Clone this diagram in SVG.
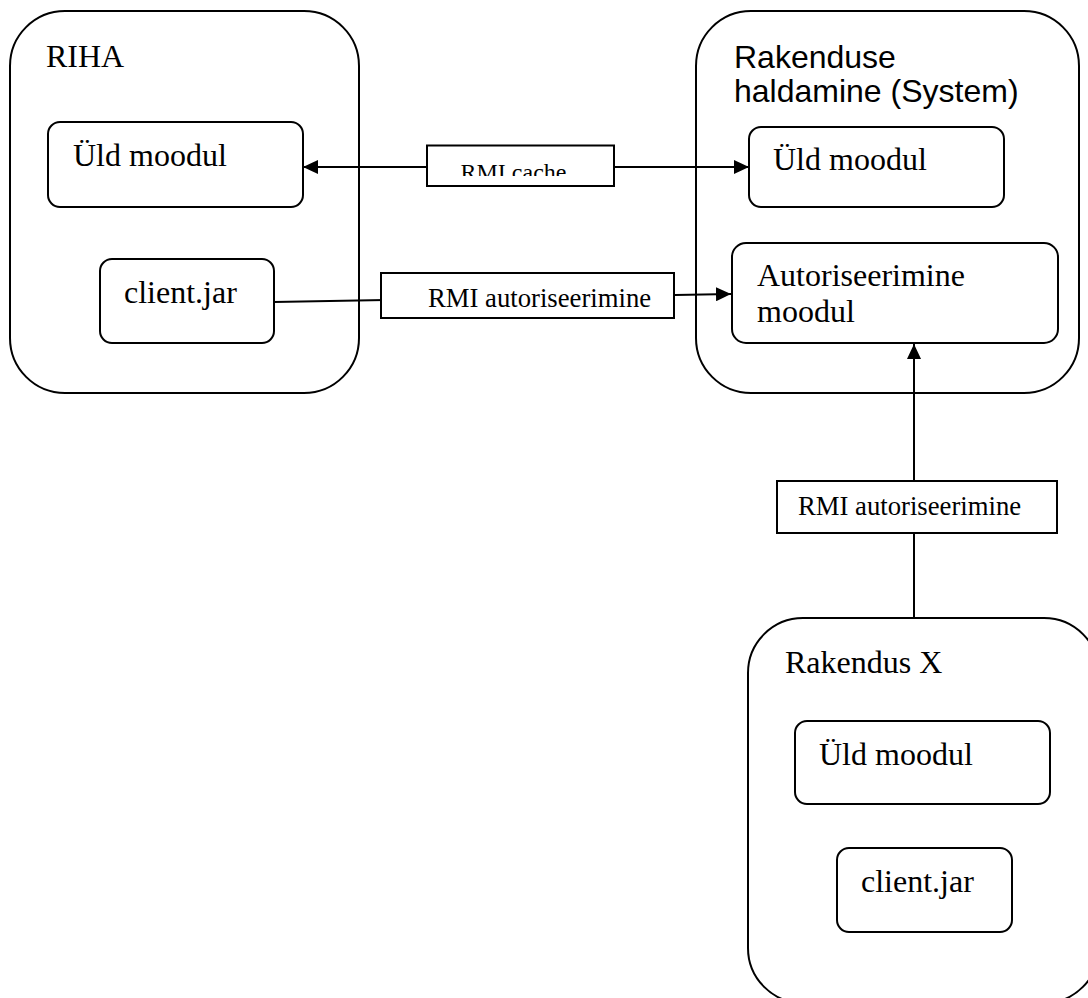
<svg xmlns="http://www.w3.org/2000/svg" width="1088" height="998" viewBox="0 0 1088 998">
<style>
.box{fill:#fff;stroke:#000;stroke-width:2}
.lbl{fill:#fff;stroke:#000;stroke-width:2}
.ln{fill:none;stroke:#000;stroke-width:2}
.t{font-family:"Liberation Serif","Times New Roman",serif;font-size:32px;fill:#000}
.ts{font-family:"Liberation Sans",Arial,sans-serif;font-size:32px;fill:#000}
.tl{font-family:"Liberation Serif","Times New Roman",serif;font-size:26.7px;fill:#000}
.tc{font-family:"Liberation Serif","Times New Roman",serif;font-size:24px;fill:#000}
</style>
<defs>
<marker id="arr" markerUnits="userSpaceOnUse" markerWidth="16" markerHeight="14" refX="15" refY="7" orient="auto-start-reverse">
<path d="M0,0 L15,7 L0,14 z" fill="#000"/>
</marker>
<clipPath id="clipCache"><rect x="428" y="146" width="186" height="30"/></clipPath>
</defs>
<rect width="1088" height="998" fill="#fff"/>

<g id="riha">
<rect class="box" x="10" y="11" width="349" height="382" rx="55"/>
<text class="t" x="46" y="67">RIHA</text>
</g>
<g id="riha-uld">
<rect class="box" x="48" y="122" width="255" height="85" rx="12"/>
<text class="t" x="73" y="166">Üld moodul</text>
</g>
<g id="riha-client">
<rect class="box" x="100" y="259" width="174" height="84" rx="12"/>
<text class="t" x="124" y="303">client.jar</text>
</g>

<g id="system">
<rect class="box" x="696" y="11" width="383" height="382" rx="55"/>
<text class="ts" x="734" y="68">Rakenduse</text>
<text class="ts" x="734" y="102">haldamine (System)</text>
</g>
<g id="system-uld">
<rect class="box" x="749" y="127" width="255" height="80" rx="12"/>
<text class="t" x="773" y="170">Üld moodul</text>
</g>
<g id="system-auth">
<rect class="box" x="732" y="243" width="326" height="100" rx="14"/>
<text class="t" x="757" y="286">Autoriseerimine</text>
<text class="t" x="757" y="322">moodul</text>
</g>

<g id="rakendus-x">
<rect class="box" x="748" y="618" width="351" height="385" rx="55"/>
<text class="t" x="785" y="673">Rakendus X</text>
</g>
<g id="rakendus-x-uld">
<rect class="box" x="795" y="721" width="255" height="83" rx="12"/>
<text class="t" x="819" y="765">Üld moodul</text>
</g>
<g id="rakendus-x-client">
<rect class="box" x="837" y="848" width="175" height="84" rx="12"/>
<text class="t" x="861" y="892">client.jar</text>
</g>

<g id="connectors">
<line class="ln" x1="303" y1="167" x2="749" y2="167" marker-start="url(#arr)" marker-end="url(#arr)"/>
<rect class="lbl" x="427" y="145.5" width="187" height="40.5"/>
<text class="tc" x="460.5" y="179.5" clip-path="url(#clipCache)">RMI cache</text>

<line class="ln" x1="274" y1="302" x2="731" y2="294" marker-end="url(#arr)"/>
<rect class="lbl" x="381" y="273" width="293" height="45"/>
<text class="tl" x="428" y="307">RMI autoriseerimine</text>

<line class="ln" x1="914" y1="618" x2="914" y2="344" marker-end="url(#arr)"/>
<rect class="lbl" x="777" y="481" width="280" height="52"/>
<text class="tl" x="798" y="515">RMI autoriseerimine</text>
</g>
</svg>
